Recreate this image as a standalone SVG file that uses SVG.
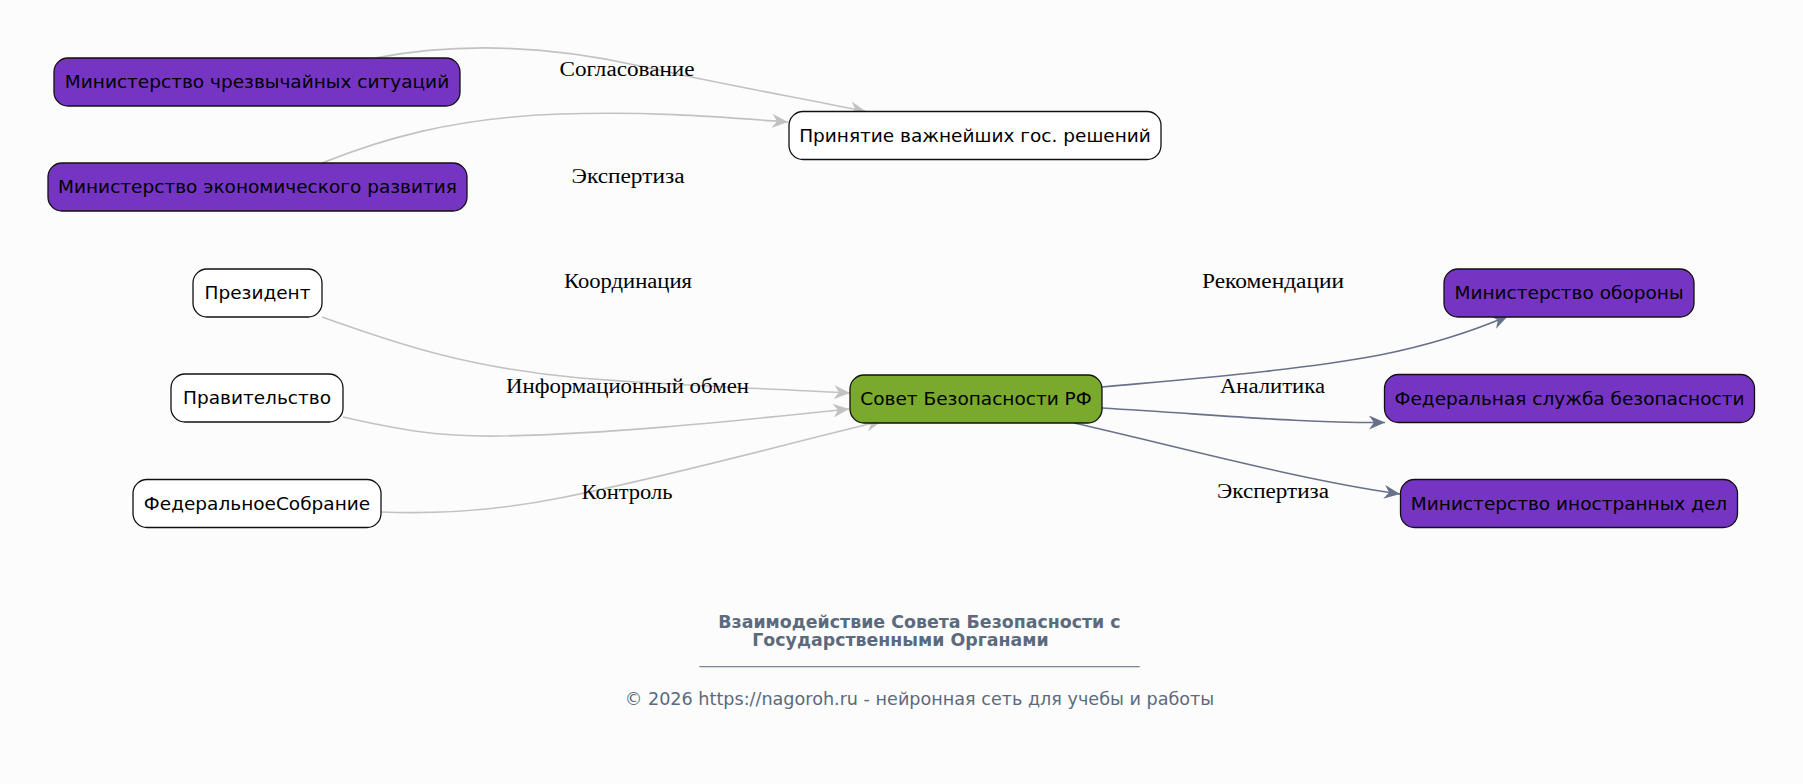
<svg xmlns="http://www.w3.org/2000/svg" width="1803" height="784" viewBox="0 0 1803 784">
<defs>
<style>
.bg{fill:#fcfcfc}
.n rect{stroke:#111;stroke-width:1.3}
.w rect{fill:#ffffff}
.p rect{fill:#7535c2}
.g rect{fill:#79a92d}
.n text{font-family:"DejaVu Sans",sans-serif;font-size:18.5px;fill:#000;text-anchor:middle}
.e path{fill:none;stroke-width:1.6}
.lg{stroke:#c2c2c2}
.ld{stroke:#67728a}
.el{font-family:"Liberation Serif",serif;font-size:20px;fill:#000;text-anchor:middle}
.t{font-family:"DejaVu Sans",sans-serif;font-size:17.4px;fill:#5b6a7c}
</style>
<marker id="ag" markerUnits="userSpaceOnUse" markerWidth="18" markerHeight="14" refX="16" refY="7" orient="auto">
<path d="M0,0 L16,7 L0,14 L5,7 Z" fill="#c2c2c2"/>
</marker>
<marker id="ad" markerUnits="userSpaceOnUse" markerWidth="18" markerHeight="14" refX="16" refY="7" orient="auto">
<path d="M0,0 L16,7 L0,14 L5,7 Z" fill="#67728a"/>
</marker>
</defs>
<rect class="bg" x="0" y="0" width="1803" height="784"/>
<g id="connectors" class="e">
<path class="lg" d="M375,58 C470,40 560,48 640,66 C720,84 800,98 866,111.5" marker-end="url(#ag)"/>
<path class="lg" d="M322,163 C380,140 450,118 560,114 C650,111 720,117 788,122" marker-end="url(#ag)"/>
<path class="lg" d="M322,317 C400,345 470,368 580,378 C680,386 780,389 850,393" marker-end="url(#ag)"/>
<path class="lg" d="M343,417 C400,430 440,437 500,436 C620,434 760,418 849,409" marker-end="url(#ag)"/>
<path class="lg" d="M381,512 C430,514 490,512 560,498 C680,474 800,440 882,421" marker-end="url(#ag)"/>
<path class="ld" d="M1102,387 C1200,378 1300,370 1380,355 C1440,343 1480,328 1508,316" marker-end="url(#ad)"/>
<path class="ld" d="M1102,408 C1220,415 1300,423 1385,422.5" marker-end="url(#ad)"/>
<path class="ld" d="M1074,423 C1180,447 1300,480 1400,494" marker-end="url(#ad)"/>
<text class="el" x="627" y="76" textLength="135" lengthAdjust="spacingAndGlyphs">Согласование</text>
<text class="el" x="628" y="183" textLength="113" lengthAdjust="spacingAndGlyphs">Экспертиза</text>
<text class="el" x="628" y="288" textLength="128" lengthAdjust="spacingAndGlyphs">Координация</text>
<text class="el" x="627.5" y="393" textLength="243" lengthAdjust="spacingAndGlyphs">Информационный обмен</text>
<text class="el" x="627" y="499" textLength="91" lengthAdjust="spacingAndGlyphs">Контроль</text>
<text class="el" x="1273" y="288" textLength="142" lengthAdjust="spacingAndGlyphs">Рекомендации</text>
<text class="el" x="1272.5" y="393" textLength="105" lengthAdjust="spacingAndGlyphs">Аналитика</text>
<text class="el" x="1273" y="498" textLength="112" lengthAdjust="spacingAndGlyphs">Экспертиза</text>
</g>
<g id="mchs" class="n p"><rect x="54" y="58" width="406" height="48" rx="14"/><text x="257" y="88">Министерство чрезвычайных ситуаций</text></g>
<g id="mer" class="n p"><rect x="48" y="163" width="419" height="48" rx="14"/><text x="257.5" y="193">Министерство экономического развития</text></g>
<g id="decisions" class="n w"><rect x="789" y="111.5" width="372" height="48" rx="14"/><text x="975" y="141.5">Принятие важнейших гос. решений</text></g>
<g id="president" class="n w"><rect x="193" y="269" width="129" height="48" rx="14"/><text x="257.5" y="299">Президент</text></g>
<g id="government" class="n w"><rect x="171" y="374" width="172" height="48" rx="14"/><text x="257" y="404">Правительство</text></g>
<g id="assembly" class="n w"><rect x="133" y="479.5" width="248" height="48" rx="14"/><text x="257" y="509.5">ФедеральноеСобрание</text></g>
<g id="council" class="n g"><rect x="850" y="375" width="252" height="48" rx="14"/><text x="976" y="405">Совет Безопасности РФ</text></g>
<g id="defense" class="n p"><rect x="1444" y="269" width="250" height="48" rx="14"/><text x="1569" y="299">Министерство обороны</text></g>
<g id="fsb" class="n p"><rect x="1384.5" y="374.5" width="370" height="48" rx="14"/><text x="1569.5" y="404.5">Федеральная служба безопасности</text></g>
<g id="mfa" class="n p"><rect x="1400.5" y="479.5" width="337" height="48" rx="14"/><text x="1569" y="509.5">Министерство иностранных дел</text></g>
<g id="title">
<text class="t" x="919.5" y="628" text-anchor="middle" font-weight="bold">Взаимодействие Совета Безопасности с</text>
<text class="t" x="900.5" y="646" text-anchor="middle" font-weight="bold">Государственными Органами</text>
<text class="t" x="919.5" y="663" text-anchor="middle" style="font-size:16px;fill:#7a8696">_______________________________________________________</text>
<text class="t" x="919.5" y="705" text-anchor="middle" style="font-size:17.6px">© 2026 https://nagoroh.ru - нейронная сеть для учебы и работы</text>
</g>
</svg>
